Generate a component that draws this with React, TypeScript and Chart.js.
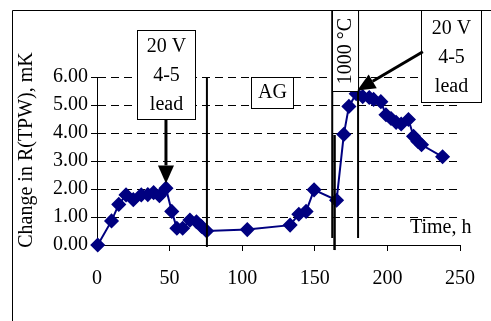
import React, { useEffect, useRef } from "react";
import { Chart, registerables } from "chart.js";

Chart.register(...registerables);

// ---- data ----
const timeHours = [
  0.5, 10, 15, 20, 25, 30.5, 35, 39, 43, 47.5, 51.5, 55, 59, 64, 68.5, 72, 75.5, 103.5,
  133, 139, 144, 149.5, 165, 170, 173.5, 178.5, 183, 187.5, 190.5, 195.5, 199, 202.5,
  206, 209.5, 214.5, 218, 221, 223.5, 238,
];
const deltaR = [
  0, 0.86, 1.45, 1.79, 1.62, 1.79, 1.8, 1.87, 1.76, 2.03, 1.2, 0.6, 0.6, 0.89, 0.83, 0.66, 0.5, 0.55,
  0.71, 1.1, 1.2, 1.97, 1.6, 3.95, 4.95, 5.4, 5.3, 5.27, 5.2, 5.12, 4.65, 4.52,
  4.38, 4.32, 4.48, 3.88, 3.7, 3.58, 3.15,
];
const xTickValues = [0, 50, 100, 150, 200, 250];
const yTickValues = [0, 1, 2, 3, 4, 5, 6];

const yAxisTitle = "Change in R(TPW), mK";
const xAxisTitle = "Time, h";

// annotation marks, in data units (time, mK)
const markerLines = [
  { t: 75.7, v1: 6, v2: -0.07, w: 2 },
  { t: 162.0, v1: 8.39, v2: 0.25, w: 2 },
  { t: 163.6, v1: 3.93, v2: -0.18, w: 2.5 },
  { t: 179.8, v1: 8.39, v2: 0.25, w: 2 },
];
const labelBoxes = [
  { t1: 27.3, t2: 67.4, v1: 7.68, v2: 4.5, lines: ["20 V", "4-5", "lead"], rotated: false },
  { t1: 106.4, t2: 135, v1: 5.99, v2: 4.88, lines: ["AG"], rotated: false },
  { t1: 162.1, t2: 179.8, v1: 8.39, v2: 5.51, lines: ["1000 °C"], rotated: true },
  { t1: 223.4, t2: 264.2, v1: 8.39, v2: 5.12, lines: ["20 V", "4-5", "lead"], rotated: false },
];
const arrows = [
  { t1: 47.5, v1: 4.5, t2: 47.5, v2: 2.2 },
  { t1: 224.4, v1: 6.9, t2: 179.2, v2: 5.52 },
];
const xTitlePos = { t: 236.7, v: 0.61 };

const FONT = "'Liberation Serif', 'Times New Roman', Times, serif";
const NAVY = "#000080";

const annotationPlugin = {
  id: "annotations",
  afterDraw(chart: any) {
    const { ctx, scales } = chart;
    const xs = scales.x;
    const ys = scales.y;
    const px = (t: number) => xs.getPixelForValue(t);
    const py = (v: number) => ys.getPixelForValue(v);
    ctx.save();

    // outer frame
    ctx.strokeStyle = "#000";
    ctx.lineWidth = 1;
    ctx.beginPath();
    ctx.moveTo(12.5, 321);
    ctx.lineTo(12.5, 10.5);
    ctx.lineTo(491, 10.5);
    ctx.stroke();

    // vertical marker lines
    for (const m of markerLines) {
      ctx.lineWidth = m.w;
      ctx.strokeStyle = "#000";
      ctx.beginPath();
      ctx.moveTo(px(m.t), py(m.v1));
      ctx.lineTo(px(m.t), py(m.v2));
      ctx.stroke();
    }

    // boxes
    ctx.font = `20px ${FONT}`;
    ctx.fillStyle = "#000";
    for (const b of labelBoxes) {
      const x1 = Math.round(px(b.t1)) + 0.5;
      const x2 = Math.round(px(b.t2)) + 0.5;
      const y1 = Math.round(py(b.v1)) + 0.5;
      const y2 = Math.round(py(b.v2)) + 0.5;
      ctx.fillStyle = "#fff";
      ctx.fillRect(x1, y1, x2 - x1, y2 - y1);
      ctx.strokeStyle = "#000";
      ctx.lineWidth = 1;
      ctx.strokeRect(x1, y1, x2 - x1, y2 - y1);
      ctx.fillStyle = "#000";
      const cx = (x1 + x2) / 2;
      const cy = (y1 + y2) / 2;
      if (b.rotated) {
        ctx.save();
        ctx.translate(cx, cy);
        ctx.rotate(-Math.PI / 2);
        ctx.textAlign = "center";
        ctx.textBaseline = "middle";
        ctx.fillText(b.lines[0], 0, 0);
        ctx.restore();
      } else if (b.lines.length === 1) {
        ctx.textAlign = "center";
        ctx.textBaseline = "middle";
        ctx.fillText(b.lines[0], cx, cy);
      } else {
        ctx.textAlign = "center";
        ctx.textBaseline = "alphabetic";
        const spacing = 29;
        const mid = (b.lines.length - 1) / 2;
        b.lines.forEach((s, i) => ctx.fillText(s, cx, cy + 6 + (i - mid) * spacing));
      }
    }

    // arrows
    for (const a of arrows) {
      const x1 = px(a.t1), y1 = py(a.v1), x2 = px(a.t2), y2 = py(a.v2);
      const ang = Math.atan2(y2 - y1, x2 - x1);
      const headLen = 18, headHalf = 8;
      const bx = x2 - Math.cos(ang) * headLen;
      const by = y2 - Math.sin(ang) * headLen;
      ctx.strokeStyle = "#000";
      ctx.lineWidth = 3;
      ctx.beginPath();
      ctx.moveTo(x1, y1);
      ctx.lineTo(bx, by);
      ctx.stroke();
      ctx.fillStyle = "#000";
      ctx.beginPath();
      ctx.moveTo(x2, y2);
      ctx.lineTo(bx + Math.sin(ang) * headHalf, by - Math.cos(ang) * headHalf);
      ctx.lineTo(bx - Math.sin(ang) * headHalf, by + Math.cos(ang) * headHalf);
      ctx.closePath();
      ctx.fill();
    }

    // x axis title inside plot
    ctx.fillStyle = "#000";
    ctx.font = `20px ${FONT}`;
    ctx.textAlign = "center";
    ctx.textBaseline = "middle";
    ctx.fillText(xAxisTitle, px(xTitlePos.t), py(xTitlePos.v));

    // y axis title
    ctx.save();
    ctx.translate(27, (ys.top + ys.bottom) / 2 - 11);
    ctx.rotate(-Math.PI / 2);
    ctx.textAlign = "center";
    ctx.textBaseline = "middle";
    ctx.fillText(yAxisTitle, 0, 0);
    ctx.restore();

    ctx.restore();
  },
};

export default function App() {
  const ref = useRef<HTMLCanvasElement>(null);
  useEffect(() => {
    const canvas = ref.current;
    if (!canvas) return;
    const chart = new Chart(canvas, {
      type: "line",
      data: {
        datasets: [
          {
            data: timeHours.map((t, i) => ({ x: t, y: deltaR[i] })),
            borderColor: NAVY,
            backgroundColor: NAVY,
            borderWidth: 2,
            pointStyle: "rectRot",
            pointRadius: 6.5,
            pointBorderWidth: 1.5,
            pointBackgroundColor: NAVY,
            pointBorderColor: NAVY,
            tension: 0,
            clip: false,
          } as any,
        ],
      },
      options: {
        responsive: false,
        animation: false,
        devicePixelRatio: 1,
        layout: { padding: { left: 0, top: 77, right: 30, bottom: 0 } },
        plugins: {
          legend: { display: false },
          tooltip: { enabled: false },
          title: { display: false },
        },
        scales: {
          x: {
            type: "linear",
            min: 0,
            max: 250,
            afterBuildTicks: (s: any) => {
              s.ticks = xTickValues.map((v) => ({ value: v }));
            },
            afterFit: (s: any) => {
              s.height = 76;
            },
            ticks: {
              color: "#000",
              font: { family: FONT, size: 20 },
              padding: 16,
              maxRotation: 0,
              autoSkip: false,
            },
            grid: {
              drawOnChartArea: false,
              drawTicks: true,
              tickLength: 6,
              color: "#000",
              tickColor: "#000",
            },
            border: { color: "#000", width: 1 },
          },
          y: {
            type: "linear",
            min: 0,
            max: 6,
            afterBuildTicks: (s: any) => {
              s.ticks = yTickValues.map((v) => ({ value: v }));
            },
            afterFit: (s: any) => {
              s.width = 97;
            },
            ticks: {
              callback: (v: any) => Number(v).toFixed(2),
              color: "#000",
              font: { family: FONT, size: 20 },
              padding: 3,
            },
            grid: {
              color: "#000",
              lineWidth: 1,
              tickLength: 6,
              tickColor: "#000",
              tickBorderDash: [],
            },
            border: { color: "#000", width: 1, dash: [8, 5] },
          },
        },
      } as any,
      plugins: [annotationPlugin],
    });
    return () => chart.destroy();
  }, []);
  return (
    <div style={{ position: "fixed", left: 0, top: 0, width: 491, height: 321, background: "#fff" }}>
      <canvas ref={ref} width={491} height={321} style={{ display: "block", width: 491, height: 321 }} />
    </div>
  );
}
